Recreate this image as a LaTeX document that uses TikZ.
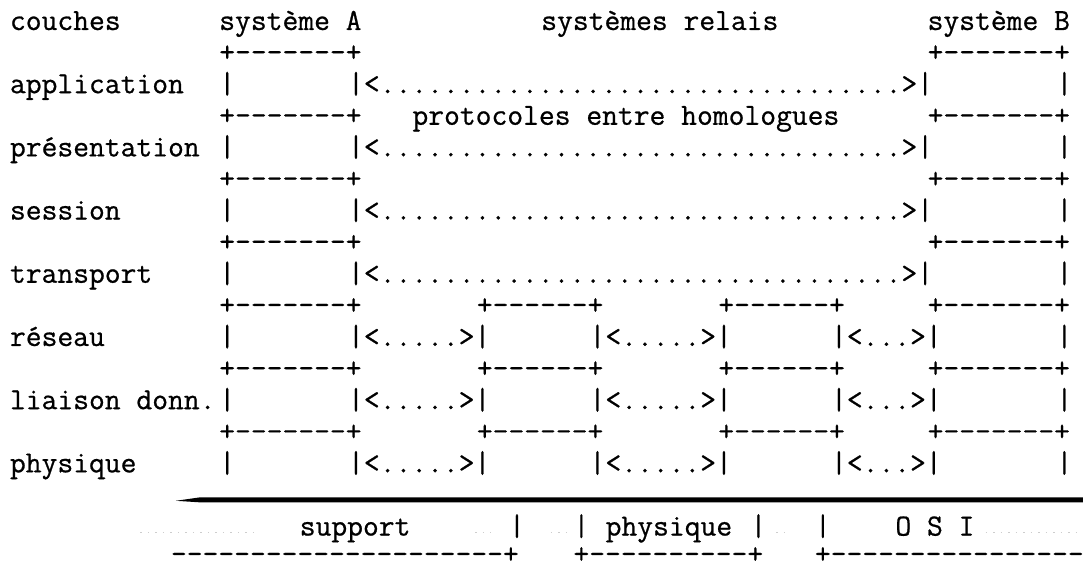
\documentclass[tikz,border=0pt]{standalone}
\usepackage{fontspec}
\usepackage{tikz}
\usepackage{xcolor}
\newfontfamily\typewriter{Latin Modern Mono}[FakeBold=0.7]
\definecolor{smudge}{RGB}{205,205,205}
\tikzset{
  cell/.style={%
    anchor=base west, inner sep=0pt, outer sep=0pt,
    font=\typewriter\fontsize{30.7}{36}\selectfont
  }}
\tikzset{
  faint/.style={%
    smudge, line width=1pt, dash pattern=on 1.5pt off 6pt
  }}

\begin{document}
\begin{tikzpicture}[x=16.1pt,y=-31.6pt]
    \useasboundingbox (-0.621,-0.949) rectangle (66.65,17.03);
    \node[cell] (L0) at (0,0) {couches};
    \node[cell] (SA) at (13,0) {système A};
    \node[cell] (SR) at (33,0) {systèmes relais};
    \node[cell] (SB) at (57,0) {système B};
    \foreach \name [count=\i] in {application,présentation,session,transport,réseau,liaison donn.,physique}
        \node[cell] (L\i) at (0,2*\i) {\name};
    \foreach \r in {1,3,...,13} {
        \node[cell] (At\r) at (13,\r) {+-------+};
        \node[cell] (Bt\r) at (57,\r) {+-------+};
    }
    \foreach \r in {2,4,...,14} {
        \node[cell] (Al\r) at (13,\r) {|};
        \node[cell] (Br\r) at (65,\r) {|};
    }
    \foreach \r in {2,4,6,8}
        \node[cell] (P\r) at (21,\r) {|<.................................>|};
    \node[cell] (proto) at (25,3) {protocoles entre homologues};
    \begin{scope}
        \foreach \r in {9,11,13} {
            \node[cell] (Ra\r) at (29,\r) {+------+};
            \node[cell] (Rb\r) at (44,\r) {+------+};
        }
        \foreach \r in {10,12,14} {
            \node[cell] (Pa\r) at (21,\r) {|<.....>|};
            \node[cell] (Pb\r) at (36,\r) {|<.....>|};
            \node[cell] (Pc\r) at (51,\r) {|<...>|};
        }
    \end{scope}
    \coordinate (S0) at (10.3,14.9);
    \coordinate (S2) at (11.8,14.87);
    \coordinate (S1) at (66.65,14.87);
    \fill (S0) -- ([yshift=2.5pt]S2) -- ([yshift=2.5pt]S1)
        -- ([yshift=-2.5pt]S1) -- ([yshift=-2.5pt]S2) -- cycle;
    \node[cell] (sup) at (18,16) {support};
    \node[cell] (phy) at (37,16) {physique};
    \node[cell] (osi) at (55,16) {O S I};
    \foreach \c in {31,35,46,50}
        \node[cell] (V\c) at (\c,16) {|};
    \node[cell] (D1) at (10,16.88) {---------------------+};
    \node[cell] (D2) at (35,16.88) {+----------+};
    \node[cell] (D3) at (50,16.88) {+----------------};
    \draw[faint] (8.1,15.9) -- (15.4,15.9);
    \draw[faint] (28.9,15.9) -- (29.9,15.9);
    \draw[faint] (33.6,15.9) -- (34.6,15.9);
    \draw[faint] (47.6,15.9) -- (48.4,15.9);
    \draw[faint] (60.6,15.9) -- (66.6,15.9);
\end{tikzpicture}
\end{document}
